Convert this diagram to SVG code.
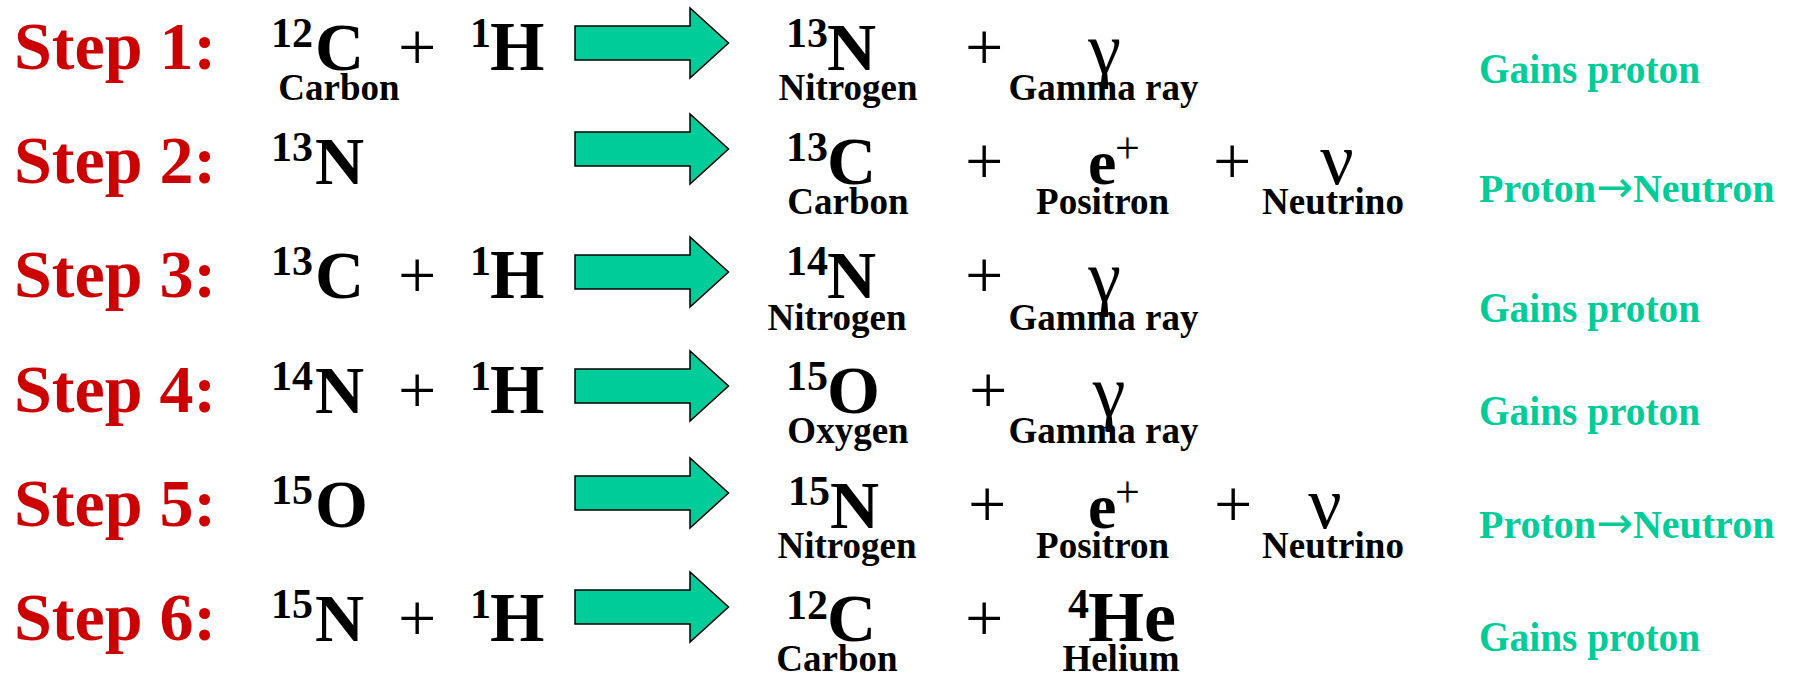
<svg xmlns="http://www.w3.org/2000/svg" width="1794" height="676" viewBox="0 0 1794 676">
<style>
text{font-family:"Liberation Serif","Times New Roman",serif}
.lbl{font-weight:bold;font-size:68px;fill:#CC0000}
.el{font-weight:bold;font-size:68px;fill:#000}
.h{font-weight:bold;font-size:70px;fill:#000}
.sup{font-weight:bold;font-size:42px;fill:#000}
.op{font-size:68px;fill:#000}
.sop{font-size:44px;fill:#000}
.gr{font-size:74px;fill:#000;text-anchor:middle}
.sub{font-weight:bold;font-size:37px;fill:#000;text-anchor:middle}
.note{font-weight:bold;font-size:42px;fill:#00CC99}
.note2{font-weight:bold;font-size:40px;fill:#00CC99}
.ar{font-family:"DejaVu Sans",sans-serif;font-weight:normal;font-size:44px}
.arr{fill:#00CC99;stroke:#000;stroke-width:1.5;stroke-linejoin:miter}
</style>
<defs>
<path id="fatArrow" class="arr" d="M575,-17 L690,-17 L690,-35 L728.5,0 L690,35 L690,17 L575,17 Z"/>
</defs>
<rect width="1794" height="676" fill="#fff"/>
<g id="connectors">
<use href="#fatArrow" transform="translate(0,43)"/>
<use href="#fatArrow" transform="translate(0,149)"/>
<use href="#fatArrow" transform="translate(0,272)"/>
<use href="#fatArrow" transform="translate(0,386)"/>
<use href="#fatArrow" transform="translate(0,493)"/>
<use href="#fatArrow" transform="translate(0,607)"/>
</g>
<!-- Step 1 -->
<g id="step1-label"><text class="lbl" x="14" y="69">Step 1:</text></g>
<g id="step1-reactants">
<text class="sup" x="271" y="47">12</text><text class="el" x="315" y="70">C</text>
<text class="sub" x="339" y="100">Carbon</text>
<text class="op" x="398" y="70">+</text>
<text class="sup" x="470" y="47">1</text><text class="h" x="490" y="70">H</text>
</g>
<g id="step1-products">
<text class="sup" x="786" y="47">13</text><text class="el" x="827" y="70">N</text>
<text class="sub" x="848" y="100">Nitrogen</text>
<text class="op" x="965" y="70">+</text>
<text class="gr" x="1104.5" y="73">γ</text>
<text class="sub" x="1103.5" y="100">Gamma ray</text>
</g>
<g id="step1-note"><text class="note" x="1479" y="83" textLength="221" lengthAdjust="spacingAndGlyphs">Gains proton</text></g>
<!-- Step 2 -->
<g id="step2-label"><text class="lbl" x="14" y="183">Step 2:</text></g>
<g id="step2-reactants">
<text class="sup" x="271" y="161">13</text><text class="el" x="315" y="184">N</text>
</g>
<g id="step2-products">
<text class="sup" x="786" y="161">13</text><text class="el" x="827" y="184">C</text>
<text class="sub" x="848" y="214">Carbon</text>
<text class="op" x="965" y="184">+</text>
<text class="el" x="1088" y="184" style="font-size:64px">e</text><text class="sop" x="1115" y="163">+</text>
<text class="sub" x="1102.5" y="214">Positron</text>
<text class="op" x="1213" y="184">+</text>
<text class="gr" x="1337" y="184">ν</text>
<text class="sub" x="1333" y="214">Neutrino</text>
</g>
<g id="step2-note"><text class="note2" x="1479" y="202">Proton<tspan class="ar">→</tspan>Neutron</text></g>
<!-- Step 3 -->
<g id="step3-label"><text class="lbl" x="14" y="297">Step 3:</text></g>
<g id="step3-reactants">
<text class="sup" x="271" y="275">13</text><text class="el" x="315" y="298">C</text>
<text class="op" x="398" y="298">+</text>
<text class="sup" x="470" y="275">1</text><text class="h" x="490" y="298">H</text>
</g>
<g id="step3-products">
<text class="sup" x="786" y="275">14</text><text class="el" x="827" y="298">N</text>
<text class="sub" x="837" y="330">Nitrogen</text>
<text class="op" x="965" y="298">+</text>
<text class="gr" x="1104.5" y="301">γ</text>
<text class="sub" x="1103.5" y="330">Gamma ray</text>
</g>
<g id="step3-note"><text class="note" x="1479" y="322" textLength="221" lengthAdjust="spacingAndGlyphs">Gains proton</text></g>
<!-- Step 4 -->
<g id="step4-label"><text class="lbl" x="14" y="411.5">Step 4:</text></g>
<g id="step4-reactants">
<text class="sup" x="271" y="389.5">14</text><text class="el" x="315" y="412.5">N</text>
<text class="op" x="398" y="412.5">+</text>
<text class="sup" x="470" y="389.5">1</text><text class="h" x="490" y="412.5">H</text>
</g>
<g id="step4-products">
<text class="sup" x="786" y="390">15</text><text class="el" x="827" y="413">O</text>
<text class="sub" x="848" y="443">Oxygen</text>
<text class="op" x="969" y="413">+</text>
<text class="gr" x="1109" y="416">γ</text>
<text class="sub" x="1103.5" y="443">Gamma ray</text>
</g>
<g id="step4-note"><text class="note" x="1479" y="425" textLength="221" lengthAdjust="spacingAndGlyphs">Gains proton</text></g>
<!-- Step 5 -->
<g id="step5-label"><text class="lbl" x="14" y="526">Step 5:</text></g>
<g id="step5-reactants">
<text class="sup" x="271" y="504">15</text><text class="el" x="315" y="527">O</text>
</g>
<g id="step5-products">
<text class="sup" x="788" y="505">15</text><text class="el" x="830" y="528">N</text>
<text class="sub" x="847" y="558">Nitrogen</text>
<text class="op" x="968" y="527">+</text>
<text class="el" x="1088" y="528" style="font-size:64px">e</text><text class="sop" x="1115" y="507">+</text>
<text class="sub" x="1102.5" y="558">Positron</text>
<text class="op" x="1214" y="527">+</text>
<text class="gr" x="1325" y="528">ν</text>
<text class="sub" x="1333" y="558">Neutrino</text>
</g>
<g id="step5-note"><text class="note2" x="1479" y="538">Proton<tspan class="ar">→</tspan>Neutron</text></g>
<!-- Step 6 -->
<g id="step6-label"><text class="lbl" x="14" y="640">Step 6:</text></g>
<g id="step6-reactants">
<text class="sup" x="271" y="618">15</text><text class="el" x="315" y="641">N</text>
<text class="op" x="398" y="641">+</text>
<text class="sup" x="470" y="618">1</text><text class="h" x="490" y="641">H</text>
</g>
<g id="step6-products">
<text class="sup" x="786" y="619">12</text><text class="el" x="827" y="641">C</text>
<text class="sub" x="837" y="671">Carbon</text>
<text class="op" x="965" y="641">+</text>
<text class="sup" x="1068" y="618">4</text><text class="el" x="1088" y="641" style="font-size:72px">He</text>
<text class="sub" x="1121" y="671">Helium</text>
</g>
<g id="step6-note"><text class="note" x="1479" y="651" textLength="221" lengthAdjust="spacingAndGlyphs">Gains proton</text></g>
</svg>
